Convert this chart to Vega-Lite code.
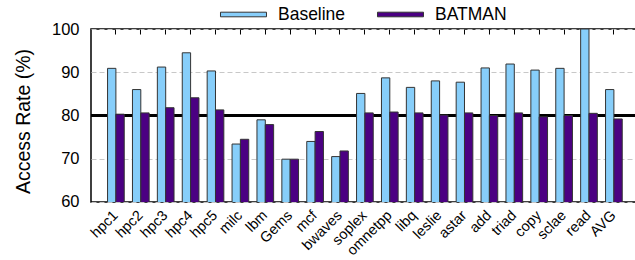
{
  "$schema": "https://vega.github.io/schema/vega-lite/v6.json",
  "autosize": "none",
  "width": 547.8,
  "height": 173,
  "padding": {"left": 91, "top": 29, "right": 0, "bottom": 58},
  "background": "white",
  "config": {
    "font": "Liberation Sans",
    "view": {"stroke": "black", "strokeWidth": 1.5},
    "axis": {"domain": false}
  },
  "datasets": {
    "bars": [
      {"bench": "hpc1", "series": "Baseline", "value": 90.9}, {"bench": "hpc1", "series": "BATMAN", "value": 80.3},
      {"bench": "hpc2", "series": "Baseline", "value": 86.0}, {"bench": "hpc2", "series": "BATMAN", "value": 80.6},
      {"bench": "hpc3", "series": "Baseline", "value": 91.2}, {"bench": "hpc3", "series": "BATMAN", "value": 81.8},
      {"bench": "hpc4", "series": "Baseline", "value": 94.5}, {"bench": "hpc4", "series": "BATMAN", "value": 84.1},
      {"bench": "hpc5", "series": "Baseline", "value": 90.3}, {"bench": "hpc5", "series": "BATMAN", "value": 81.3},
      {"bench": "milc", "series": "Baseline", "value": 73.4}, {"bench": "milc", "series": "BATMAN", "value": 74.5},
      {"bench": "lbm", "series": "Baseline", "value": 79.0}, {"bench": "lbm", "series": "BATMAN", "value": 77.9},
      {"bench": "Gems", "series": "Baseline", "value": 69.9}, {"bench": "Gems", "series": "BATMAN", "value": 69.9},
      {"bench": "mcf", "series": "Baseline", "value": 74.0}, {"bench": "mcf", "series": "BATMAN", "value": 76.3},
      {"bench": "bwaves", "series": "Baseline", "value": 70.5}, {"bench": "bwaves", "series": "BATMAN", "value": 71.8},
      {"bench": "soplex", "series": "Baseline", "value": 85.1}, {"bench": "soplex", "series": "BATMAN", "value": 80.6},
      {"bench": "omnetpp", "series": "Baseline", "value": 88.7}, {"bench": "omnetpp", "series": "BATMAN", "value": 80.8},
      {"bench": "libq", "series": "Baseline", "value": 86.5}, {"bench": "libq", "series": "BATMAN", "value": 80.6},
      {"bench": "leslie", "series": "Baseline", "value": 88.0}, {"bench": "leslie", "series": "BATMAN", "value": 80.1},
      {"bench": "astar", "series": "Baseline", "value": 87.7}, {"bench": "astar", "series": "BATMAN", "value": 80.6},
      {"bench": "add", "series": "Baseline", "value": 91.0}, {"bench": "add", "series": "BATMAN", "value": 80.0},
      {"bench": "triad", "series": "Baseline", "value": 91.9}, {"bench": "triad", "series": "BATMAN", "value": 80.6},
      {"bench": "copy", "series": "Baseline", "value": 90.5}, {"bench": "copy", "series": "BATMAN", "value": 79.7},
      {"bench": "sclae", "series": "Baseline", "value": 90.9}, {"bench": "sclae", "series": "BATMAN", "value": 80.0},
      {"bench": "read", "series": "Baseline", "value": 100.0}, {"bench": "read", "series": "BATMAN", "value": 80.5},
      {"bench": "AVG", "series": "Baseline", "value": 86.0}, {"bench": "AVG", "series": "BATMAN", "value": 79.2}
    ],
    "ref": [{"level": 80}]
  },
  "resolve": {"axis": {"x": "independent"}},
  "layer": [
    {
      "data": {"name": "ref"},
      "mark": {"type": "rule", "color": "black", "strokeWidth": 3},
      "encoding": {
        "y": {"field": "level", "type": "quantitative", "scale": {"domain": [60, 100]}}
      }
    },
    {
      "data": {"name": "bars"},
      "mark": {"type": "bar", "stroke": "#333333", "strokeWidth": 1, "clip": true},
      "encoding": {
        "x": {
          "field": "bench", "type": "nominal", "sort": null,
          "scale": {"paddingInner": 0.33, "paddingOuter": 0.665},
          "axis": {
            "title": null, "labelAngle": -45, "labelAlign": "right", "labelBaseline": "middle",
            "labelFontSize": 14.5, "labelColor": "black", "ticks": false, "labelPadding": 11
          }
        },
        "xOffset": {"field": "series", "type": "nominal", "sort": ["Baseline", "BATMAN"]},
        "y": {
          "field": "value", "type": "quantitative",
          "scale": {"domain": [60, 100], "nice": false, "zero": false},
          "axis": {
            "title": "Access Rate (%)", "values": [60, 70, 80, 90, 100],
            "labelFontSize": 16.5, "labelColor": "black", "ticks": false, "labelPadding": 12,
            "grid": true, "gridColor": "#c8c8c8", "gridDash": [5, 3], "gridWidth": 1,
            "titleFontSize": 19.5, "titleFontWeight": "normal", "titleColor": "black",
            "titleX": -61, "titleY": 92, "titleBaseline": "alphabetic"
          }
        },
        "color": {
          "field": "series", "type": "nominal",
          "scale": {"domain": ["Baseline", "BATMAN"], "range": ["#87CEFA", "#4B0082"]},
          "legend": {
            "title": null, "orient": "none", "direction": "horizontal",
            "legendX": 129, "legendY": -38,
            "symbolType": "M-1,-0.1H1V0.1H-1Z", "symbolSize": 2116,
            "symbolStrokeColor": "#333333", "symbolStrokeWidth": 1, "symbolOpacity": 1,
            "labelFontSize": 17.5, "labelColor": "black", "labelOffset": 11,
            "columnPadding": 29, "padding": 0
          }
        }
      }
    },
    {
      "data": {"name": "bars"},
      "mark": {"type": "tick", "opacity": 0},
      "encoding": {
        "x": {
          "field": "bench", "type": "nominal", "sort": null,
          "axis": {
            "orient": "top", "title": null, "labels": false, "ticks": true,
            "tickSize": -5, "tickColor": "black", "tickWidth": 1, "grid": false, "domain": false
          }
        }
      }
    }
  ]
}
